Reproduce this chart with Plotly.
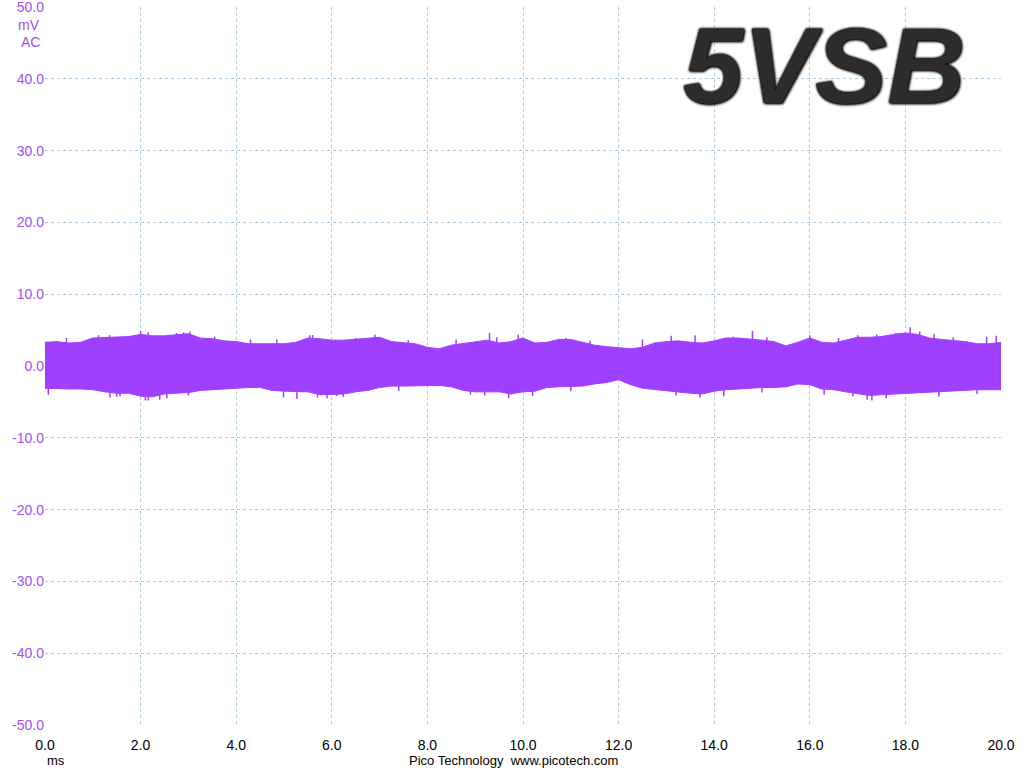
import plotly.graph_objects as go

# envelope of the 5VSB ripple trace, read every 0.25 ms (mV)
time_ms = [i * 0.25 for i in range(81)]
upper_mv = [3.3, 3.4, 3.2, 3.3, 3.9, 4.0, 4.0, 4.1, 4.4, 4.2, 4.2, 4.4, 4.5, 3.9, 3.8, 3.5,
            3.4, 3.1, 3.1, 3.0, 3.1, 3.3, 3.9, 3.8, 3.6, 3.6, 3.7, 3.9, 4.0, 3.4, 3.2, 3.1,
            2.6, 2.4, 2.9, 3.1, 3.3, 3.6, 3.2, 3.4, 3.9, 3.2, 3.3, 3.7, 3.7, 3.3, 2.9, 2.7,
            2.6, 2.4, 2.6, 3.2, 3.4, 3.5, 3.3, 3.2, 3.5, 3.9, 3.9, 3.8, 3.6, 3.4, 2.8, 3.3,
            3.9, 3.3, 3.2, 3.6, 4.0, 4.0, 4.1, 4.4, 4.6, 4.4, 3.9, 3.7, 3.6, 3.4, 3.1, 3.1, 3.3]
lower_mv = [-3.1, -3.2, -3.2, -3.2, -3.3, -3.6, -3.8, -3.8, -4.2, -4.3, -3.9, -3.8, -3.7, -3.4, -3.3, -3.2,
            -3.0, -3.0, -3.0, -3.4, -3.5, -3.5, -3.6, -4.0, -4.0, -3.9, -3.6, -3.4, -3.0, -2.8, -2.8, -2.8,
            -2.8, -2.7, -2.9, -3.4, -3.6, -3.6, -3.6, -3.9, -3.6, -3.5, -3.0, -2.9, -2.9, -2.8, -2.5, -2.3,
            -1.9, -2.6, -3.1, -3.3, -3.4, -3.6, -3.8, -3.9, -3.5, -3.3, -3.2, -3.0, -3.0, -3.0, -2.9, -2.5,
            -2.6, -3.2, -3.3, -3.6, -3.9, -4.1, -4.0, -3.9, -3.8, -3.8, -3.7, -3.5, -3.4, -3.3, -3.3, -3.3, -3.3]

# single spikes sticking out of the band
peak_t = [0.45, 1.12, 1.35, 1.53, 1.78, 2.0, 2.16, 2.75, 2.9, 3.03, 3.55, 4.3, 4.85, 5.54, 5.6, 6.5,
          6.9, 7.6, 8.6, 9.3, 9.45, 9.9, 10.9, 11.4, 12.5, 13.1, 13.6, 14.4, 14.8, 15.1, 16.0, 16.6,
          17.0, 17.4, 17.8, 18.1, 18.3, 18.6, 19.0, 19.7, 19.9]
peak_mv = [3.9, 4.3, 4.3, 4.0, 4.0, 4.9, 4.7, 4.6, 4.7, 4.8, 4.1, 3.7, 3.7, 4.3, 4.3, 3.9,
           4.4, 3.6, 3.7, 4.6, 4.0, 4.4, 3.9, 3.5, 3.7, 4.2, 4.3, 4.1, 4.9, 4.0, 4.3, 3.9,
           4.3, 4.4, 4.6, 5.4, 4.8, 4.5, 4.0, 4.1, 4.2]
dip_t = [0.07, 1.36, 1.5, 1.57, 2.1, 2.16, 2.4, 2.55, 3.0, 4.99, 5.27, 5.7, 5.9, 6.1, 6.24, 7.4,
         8.9, 9.2, 9.7, 10.2, 11.0, 13.2, 13.7, 14.2, 15.0, 16.3, 16.9, 17.2, 17.3, 17.6, 18.7, 19.5]
dip_mv = [-4.0, -4.4, -4.3, -4.2, -4.8, -4.8, -4.7, -4.5, -4.1, -4.4, -4.6, -4.4, -4.5, -4.2, -4.3, -3.5,
          -4.0, -4.1, -4.5, -4.2, -3.5, -4.1, -4.4, -4.2, -3.7, -4.0, -4.2, -4.7, -4.8, -4.5, -4.3, -3.9]

x_ticks = [0, 2, 4, 6, 8, 10, 12, 14, 16, 18, 20]
y_ticks = [50, 40, 30, 20, 10, 0, -10, -20, -30, -40, -50]

trace_col = '#A040FF'
grid_col = '#9FCFEA'
label_col = '#A050F0'

fig = go.Figure()
fig.add_trace(go.Scatter(x=time_ms, y=lower_mv, mode='lines',
                         line=dict(color=trace_col, width=1)))
fig.add_trace(go.Scatter(x=time_ms, y=upper_mv, mode='lines', fill='tonexty',
                         fillcolor=trace_col, line=dict(color=trace_col, width=1)))

# spikes as short vertical strokes
sx, sy = [], []
for t, v in zip(peak_t + dip_t, peak_mv + dip_mv):
    sx += [t, t, None]
    sy += [0, v, None]
fig.add_trace(go.Scatter(x=sx, y=sy, mode='lines', line=dict(color=trace_col, width=1.5)))

tick_font = dict(family='Liberation Sans Narrow, Liberation Sans, Arial', size=14)
small_font = dict(family='Liberation Sans Narrow, Liberation Sans, Arial', size=13)

fig.update_xaxes(range=[0, 20], tickvals=x_ticks, ticktext=['%.1f' % v for v in x_ticks],
                 showgrid=True, gridcolor=grid_col, griddash='3px,3px', gridwidth=1,
                 zeroline=False, showline=False, ticks='', ticklabelstandoff=10,
                 ticklabeloverflow='allow', automargin=False,
                 tickfont=dict(color='#000000', **tick_font))
fig.update_yaxes(range=[-50, 50], tickvals=y_ticks, ticktext=['%.1f' % v for v in y_ticks],
                 showgrid=True, gridcolor=grid_col, griddash='3px,3px', gridwidth=1,
                 zeroline=False, showline=False, ticks='', ticklabeloverflow='allow',
                 automargin=False,
                 tickfont=dict(color=label_col, **tick_font))

fig.add_annotation(text='mV', xref='paper', yref='paper', x=0, y=0.975, xanchor='right',
                   yanchor='middle', xshift=-3, showarrow=False,
                   font=dict(color=label_col, **tick_font))
fig.add_annotation(text='AC', xref='paper', yref='paper', x=0, y=0.951, xanchor='right',
                   yanchor='middle', xshift=-3, showarrow=False,
                   font=dict(color=label_col, **tick_font))
fig.add_annotation(text='ms', xref='paper', yref='paper', x=0, y=0, xanchor='left',
                   yanchor='top', xshift=0, yshift=-26, showarrow=False,
                   font=dict(color='#000000', **small_font))
fig.add_annotation(text='Pico Technology  www.picotech.com', xref='paper', yref='paper',
                   x=0.49, y=0, xanchor='center', yanchor='top', yshift=-26, showarrow=False,
                   font=dict(color='#000000', **small_font))

# big label top right, dark with grey sheen
fig.add_annotation(text='<b><i>5VSB</i></b>', x=16.3, y=41.9, showarrow=False,
                   font=dict(family='Liberation Sans, Arial', size=108, color='#2c2c2c',
                             shadow='0px 0px 2px #000, 0px 0px 3px #000, 1px 1px 3px #000'))

fig.update_layout(width=1024, height=768, showlegend=False,
                  margin=dict(l=45, r=23, t=7, b=43),
                  paper_bgcolor='white', plot_bgcolor='white')

fig.write_html("out.html", config={'displayModeBar': False},
               post_script="document.body.style.margin='0px';")
